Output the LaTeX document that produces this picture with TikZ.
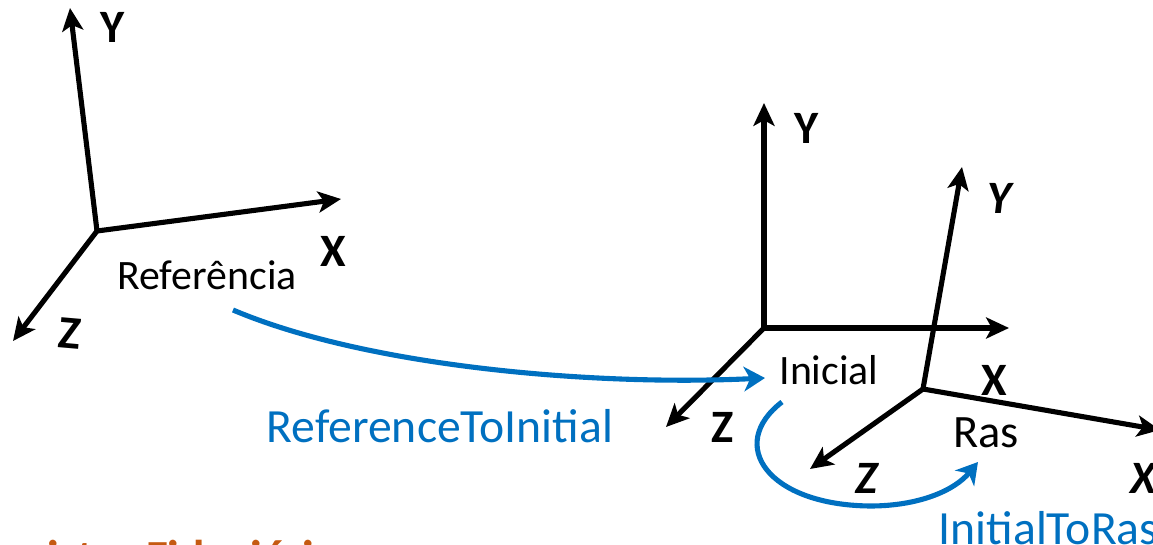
\documentclass[tikz,border=0pt]{standalone}
\usepackage{fontspec}
\setmainfont{Carlito}
\usetikzlibrary{arrows.meta}
\definecolor{transfblue}{HTML}{0070C0}
\definecolor{titleorange}{HTML}{C55A11}
\tikzset{
  axis/.style={draw=black,line width=1.45pt,-{Stealth[length=6.5pt,width=6pt,inset=1.6pt]}},
  transf/.style={draw=transfblue,line width=1.45pt,-{Stealth[length=6pt,width=7pt,inset=1.8pt]}},
  axlabel/.style={font=\fontsize{13.2}{15}\selectfont\bfseries,text=black,inner sep=0pt},
  axlabelit/.style={axlabel,font=\fontsize{13.2}{15}\selectfont\bfseries\itshape},
  framename/.style={font=\fontsize{11.9}{14}\selectfont,text=black,inner sep=0pt},
  transfname/.style={font=\fontsize{13.55}{16}\selectfont,text=transfblue,inner sep=0pt}
}
\begin{document}
\begin{tikzpicture}[x=0.01cm,y=-0.01cm]
\useasboundingbox (0,0) rectangle (1153,545);
\clip (0,0) rectangle (1153,545);
% referencia
\coordinate (r0) at (97,231);
\coordinate (rY) at (70,8);
\coordinate (rX) at (341,199);
\coordinate (rZ) at (13,341);
\draw[axis] (r0)--(rY);
\draw[axis] (r0)--(rX);
\draw[axis] (r0)--(rZ);
\node[axlabel] (lrY) at (113,27) {Y};
\node[axlabel] (lrX) at (333,251) {X};
\node[axlabel,rotate=-5] (lrZ) at (70,333) {Z};
\node[framename] (nref) at (207,275) {Referência};
% inicial
\coordinate (i0) at (764,328);
\coordinate (iY) at (764,103);
\coordinate (iX) at (1009,328);
\coordinate (iZ) at (666,427);
\draw[axis] (i0)--(iY);
\draw[axis] (i0)--(iX);
\draw[axis] (i0)--(iZ);
\node[axlabel] (liY) at (807,128) {Y};
\node[axlabel] (liX) at (994,380) {X};
\node[axlabel] (liZ) at (723,427) {Z};
\node[framename] (nini) at (829,370) {Inicial};
% ras
\coordinate (s0) at (923,389);
\coordinate (sY) at (962,167);
\coordinate (sX) at (1160,430);
\coordinate (sZ) at (810,469);
\draw[axis] (s0)--(sY);
\draw[axis] (s0)--(sX);
\draw[axis] (s0)--(sZ);
\node[axlabelit] (lsY) at (1000,198) {Y};
\node[axlabelit] (lsX) at (1143,478) {X};
\node[axlabelit] (lsZ) at (867,478) {Z};
\node[framename,font=\fontsize{13.2}{15}\selectfont] (nras) at (986,433) {Ras};
% transformacoes
\coordinate (a1) at (233,310);
\coordinate (b1) at (765,378);
\coordinate (a2) at (782,402);
\coordinate (b2) at (978,462);
\draw[transf] (a1) .. controls (370,368) and (600,386) .. (b1);
\draw[transf] (a2) .. controls (726,445) and (768,505) .. (870,506) .. controls (920,506) and (955,490) .. (b2);
\node[transfname] (nrefini) at (440,426) {ReferenceToInitial};
\node[transfname,anchor=west] (ninitras) at (938,528) {InitialToRas};
\node[font=\fontsize{13.5}{16}\selectfont\bfseries,text=titleorange,anchor=base west,inner sep=0pt] (ntitle) at (-26,573) {Registro Fiduciária};
\end{tikzpicture}
\end{document}
